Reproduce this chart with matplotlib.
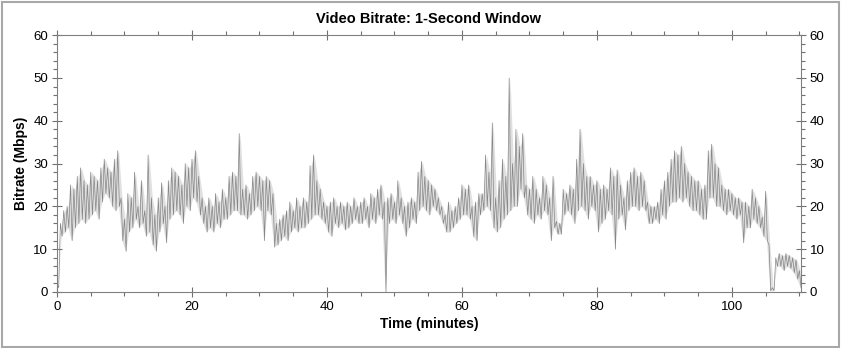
import numpy as np
import matplotlib
matplotlib.use("Agg")
import matplotlib.pyplot as plt
from matplotlib.patches import Rectangle
from matplotlib.ticker import MultipleLocator

plt.rcParams["font.family"] = ["Liberation Sans", "DejaVu Sans"]

# half-minute windows: lowest and highest 1-second bitrate (Mbps)
t_start = np.arange(0, 110.5, 0.5)
lo = [
    1, 13, 14, 15, 12, 15, 16, 17, 16, 17, 18, 19, 17, 21, 23, 22, 20, 19, 20, 12,
    9.5, 14, 15, 17, 15, 16, 13, 14, 11, 9.5, 14, 16, 11.5, 17, 18, 19, 18, 16, 20, 19,
    22, 21, 18, 16, 14, 15, 14, 16, 15, 17, 17, 18, 19, 19, 18, 18, 17, 18, 19, 20,
    19, 12, 19, 18, 10.5, 11, 12, 13, 12, 14, 15, 14, 15, 15, 16, 17, 18, 18, 17, 16,
    14, 13, 16, 15, 16, 14.5, 15, 16, 17, 16, 16, 17, 15, 17, 16, 18, 17, 0, 16, 17,
    16, 18, 16, 13, 15, 17, 16, 19, 20, 19, 18, 20, 19, 18, 16, 14, 14, 15, 16, 17,
    18, 18, 17, 13, 12, 18, 19, 20, 19, 15, 14, 15, 17, 18, 19, 20, 20, 24, 22, 18,
    17, 16, 18, 17, 19, 18, 12, 15, 13.5, 13.5, 18, 19, 18, 16, 19, 20, 19, 17, 20, 19,
    14, 16, 17, 19, 18, 10, 17, 18, 14.5, 19, 20, 20, 19, 20, 19, 16, 16, 17, 16, 18,
    17, 20, 21, 21, 22, 21, 22, 20, 19, 19, 18, 17, 17, 22, 22, 20, 20, 19, 18, 19,
    18, 17, 18, 11.5, 15, 15, 17, 16, 15, 13, 12, 0.3, 0.3, 6, 6, 5, 6, 5.5, 4.5, 3,
    1,
]
hi = [
    2, 16, 19, 20, 25, 24, 27, 29, 26, 25, 28, 27, 26, 29, 31, 29, 28, 31, 33, 22,
    17, 23, 22, 28, 20, 26, 19, 32, 22, 18, 22, 25.5, 20, 26, 29, 28, 27, 25, 30, 29,
    31, 33, 27, 22, 20, 22, 20, 23, 21, 24, 22, 27, 28, 27, 37, 24, 25, 23, 27, 28,
    27, 26, 27, 26, 23, 16, 17, 18, 19, 21, 19, 22, 20, 22, 21, 29.5, 32, 26, 24, 21,
    20, 21, 22, 20, 21, 20, 21, 20, 22, 20, 21, 22, 20, 23, 22, 24, 25, 21, 22, 23,
    21, 26, 22, 20, 21, 22, 21, 28, 30.5, 27, 26, 25, 24, 22, 20, 18, 21, 19, 20, 22,
    25, 24, 25, 20, 21, 23, 23, 32, 28, 39.5, 22, 26, 31, 27, 50, 30, 38, 34, 37, 25,
    24, 27, 24, 22, 27, 25, 22, 27, 16.5, 16, 24, 23, 25, 24, 31, 38, 30, 27, 27, 25,
    26, 24, 25, 24, 29, 27, 28.5, 25, 22, 26, 28, 29, 27, 28, 26, 21, 20, 20, 21, 24,
    26, 28, 31, 33, 32, 34, 30, 28, 27, 26, 26, 24, 25, 33, 34.5, 30, 29, 25, 24, 24,
    23, 22, 22, 21, 21, 20, 24, 22, 20, 17.5, 23.5, 11, 1, 8, 9, 8.5, 9, 8.5, 8, 7.5,
    5,
]

x_ticks = [0, 20, 40, 60, 80, 100]
y_ticks = [0, 10, 20, 30, 40, 50, 60]

# trace each window from its high to its low
xs = np.column_stack([t_start, t_start + 0.25]).ravel()
ys = np.column_stack([hi, lo]).ravel()

fig = plt.figure(figsize=(8.42, 3.48), dpi=100)
ax = fig.add_axes([0.0677, 0.161, 0.8833, 0.738])

ax.fill_between(t_start + 0.125, lo, hi, color="#a8a8a8", alpha=0.35, lw=0)
ax.plot(xs, ys, color="#858585", lw=0.5)

ax.set_xlim(0, 110.2)
ax.set_ylim(0, 60)
ax.set_xticks(x_ticks)
ax.set_yticks(y_ticks)
ax.xaxis.set_minor_locator(MultipleLocator(5))
ax.yaxis.set_minor_locator(MultipleLocator(2))
ax.tick_params(which="both", top=True, right=True, labelright=True,
               colors="#707070", labelcolor="black", labelsize=9.5, width=0.8)
ax.tick_params(which="major", direction="inout", length=7, pad=3)
ax.tick_params(which="minor", direction="out", length=3)
for s in ax.spines.values():
    s.set_color("#808080")
    s.set_linewidth(0.8)

ax.set_title("Video Bitrate: 1-Second Window", fontsize=10.5, fontweight="bold", pad=9)
ax.set_xlabel("Time (minutes)", fontsize=10, fontweight="bold", labelpad=3)
ax.set_ylabel("Bitrate (Mbps)", fontsize=10, fontweight="bold", labelpad=4)

fig.patches.append(Rectangle((0.002, 0.004), 0.995, 0.991, transform=fig.transFigure,
                             fill=False, edgecolor="#a8a8a8", lw=1.5))

fig.savefig("out.png", dpi=100)
